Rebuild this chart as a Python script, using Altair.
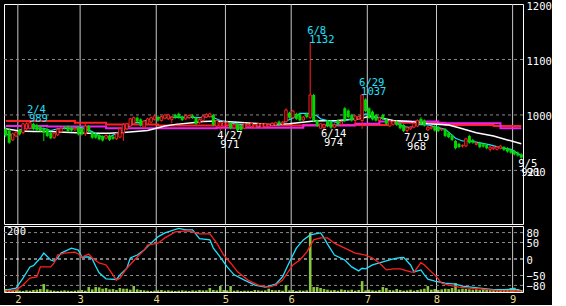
import altair as alt
import pandas as pd

FONT = "DejaVu Sans Mono"

# ---------------- data ----------------
opens = [975,972,955,962,973,968,975,976,984,982,
         978,975,974,968,959,964,970,978,979,977,
         973,978,976,966,980,968,966,964,962,958,
         963,961,957,960,968,975,980,984,995,992,
         978,984,987,992,996,990,994,993,992,1000,
         1002,997,993,995,999,995,986,990,996,997,
         1000,980,980,980,982,985,977,984,980,976,
         980,979,978,980,978,979,980,981,982,988,
         984,988,1004,995,1002,1001,991,1002,995,1036,
         990,976,977,989,988,978,990,983,1012,1008,
         1000,990,993,990,1028,1012,1006,1000,990,1000,
         992,980,983,988,985,982,972,975,978,980,
         993,990,973,976,980,978,973,974,968,963,
         953,948,944,944,962,955,947,950,947,946,
         938,939,938,940,942,940,937,935,932,929]
highs = [979,975,968,971,975,986,987,989,986,984,
         980,977,976,970,969,976,978,980,981,979,
         978,980,978,984,982,970,968,966,963,965,
         965,962,968,977,985,986,995,997,997,994,
         991,995,997,1000,999,999,1002,1002,998,1002,
         1004,999,1001,1001,1001,997,994,1000,1003,1004,
         1002,992,988,989,989,987,984,986,982,986,
         985,987,984,986,986,986,985,987,988,990,
         989,1012,1006,1009,1004,1003,998,1004,1132,1038,
         992,985,984,991,990,985,992,990,1014,1010,
         1002,1000,999,1037,1030,1014,1008,1002,997,1002,
         994,991,990,990,987,984,979,980,987,992,
         996,992,980,980,982,980,976,976,970,965,
         955,950,947,959,964,957,951,952,949,948,
         944,944,944,946,944,942,939,937,934,931]
lows = [960,948,953,960,963,966,972,974,972,971,
        970,953,960,956,957,962,968,974,969,970,
        971,963,963,962,968,957,957,954,952,956,
        953,955,955,958,953,973,978,982,986,979,
        976,982,985,990,988,988,992,991,985,993,
        993,989,991,993,993,982,984,988,994,995,
        980,978,971,978,979,974,975,970,972,974,
        978,977,976,978,976,977,978,979,980,981,
        982,986,993,993,991,988,989,994,993,988,
        978,975,974,978,975,976,980,981,987,994,
        988,980,991,975,1005,993,990,988,988,991,
        982,978,981,980,974,969,968,973,976,978,
        982,979,971,974,970,969,971,960,958,953,
        938,940,941,942,948,948,945,940,941,938,
        934,937,936,938,935,932,930,927,925,921]
closes = [963,950,966,969,965,984,984,986,975,973,
          971,968,962,958,967,974,976,976,971,972,
          976,965,965,980,970,959,959,956,954,963,
          955,957,966,975,983,984,993,995,988,981,
          989,993,995,998,990,997,1000,1000,996,995,
          995,991,999,999,995,984,992,998,1001,1002,
          982,990,986,987,986,976,982,972,973,984,
          983,985,982,984,984,984,983,985,986,983,
          987,1009,995,1007,993,990,996,996,1036,990,
          980,984,983,980,977,983,982,988,990,996,
          990,998,997,1036,1007,995,992,990,995,993,
          984,989,988,982,976,971,977,978,985,990,
          984,981,978,978,972,971,974,962,960,955,
          940,942,945,957,950,950,949,942,943,940,
          942,942,942,944,937,934,932,929,927,923]
volumes = [9,6,5,6,4,3,5,4,6,7,
           9,24,8,5,4,3,4,5,4,3,
           4,5,6,4,15,8,15,14,10,12,
           8,9,6,12,10,10,7,18,8,6,
           5,4,3,4,5,6,4,5,4,3,
           4,5,4,3,5,4,6,5,5,12,
           6,5,18,6,5,18,4,5,3,4,
           4,3,6,5,4,5,10,6,5,6,
           4,21,5,6,3,5,4,5,180,15,
           15,12,9,7,5,6,4,8,6,5,
           7,4,6,33,5,7,5,4,6,15,
           12,6,5,9,6,4,5,7,4,6,
           8,10,18,7,9,6,8,10,9,12,
           27,8,10,9,8,7,8,6,9,7,
           7,9,8,6,7,6,12,13,9,6]

month_labels = ["2", "3", "4", "5", "6", "7", "8", "9"]
month_start_idx = [4, 22, 44, 64, 83, 105, 125, 147]

cyan_ma_idx = [0,1,3,4,6,8,11,13,15,19,22,25,27,30,32,35,37,39,41,44,
               50,56,59,62,65,69,73,79,81,83,85,88,90,91,93,96,98,101,104,106,
               108,111,113,115,117,119,122,125,127,128,130,132,134,136,140,143,146,148,149]
cyan_ma_val = [965,964,964,973,977,976,976,972,975,976,977,970,962,960,967,977,986,986,991,995,
               996,995,998,990,985,982,980,982,989,994,1003,1003,998,993,990,986,990,994,1002,998,
               995,989,985,979,977,983,982,977,974,969,958,953,953,951,946,941,938,931,926]
white_ma_idx = [0,4,8,13,17,24,30,35,41,46,49,54,57,61,67,76,82,89,96,102,
                105,108,112,117,122,128,131,136,141,145,149]
white_ma_val = [975,971,970,970,969,967,967,969,972,980,983,986,988,989,987,983,984,989,990,993,
                997,995,990,988,984,982,977,968,962,955,948]
red_ma_idx = [0, 20, 29, 44, 86, 111, 127, 141, 149]
red_ma_val = [989, 986, 983, 981, 982, 986, 982, 980, 980]
mag_ma_idx = [0, 12, 29, 61, 86, 101, 108, 125, 143, 149]
mag_ma_val = [980, 979, 976, 977, 981, 984, 988, 985, 976, 976]

osc_cyan_idx = [0,3,5,7,8,10,11,13,14,15,16,19,21,22,24,25,26,27,29,32,33,35,36,38,40,
                42,44,46,50,52,54,56,59,60,62,64,66,69,72,75,78,80,82,84,86,88,91,92,93,95,
                98,100,102,103,104,106,109,112,114,115,117,118,120,121,122,124,127,130,132,137,
                141,144,147,149]
osc_cyan_val = [-94,-88,-58,-24,-20,3,18,-3,-7,3,18,33,27,6,6,0,-22,-42,-60,-62,-48,-28,3,12,27,
                48,67,79,93,88,88,62,58,33,6,-24,-48,-64,-79,-85,-76,-54,-9,33,58,73,79,64,45,12,
                -3,-24,-36,-28,-30,-18,-9,0,4,5,-18,-39,-33,-48,-61,-67,-73,-76,-82,-88,
                -93,-93,-91,-96]
osc_red_idx = [0,3,5,7,9,10,13,14,15,17,20,21,22,24,25,27,29,30,32,33,35,38,40,41,44,
               46,49,52,54,56,59,61,63,65,67,70,73,76,78,80,83,85,87,89,91,93,95,98,101,104,
               106,108,110,112,114,117,118,120,121,123,124,126,128,131,134,138,142,147,149]
osc_red_val = [-97,-94,-79,-58,-54,-24,-24,-12,12,18,21,15,6,15,3,-12,-18,-33,-64,-58,-28,6,27,42,48,
               64,82,85,82,76,76,48,12,-12,-39,-64,-79,-85,-79,-64,-18,-3,21,58,64,64,48,33,18,12,
               3,-12,-33,-30,-30,-39,-40,-11,-18,-39,-48,-73,-79,-85,-88,-91,-96,-97,-98]

high_ann_idx = [7, 88, 103]
high_ann_date = ["2/4", "6/8", "6/29"]
low_ann_idx = [62, 92, 116, 149]
low_ann_date = ["4/27", "6/14", "7/19", "9/5"]

# ---------------- tables ----------------
N = len(closes)
df = pd.DataFrame({"i": list(range(N)), "o": opens, "h": highs, "l": lows, "c": closes, "v": volumes})
df["up"] = df["c"] >= df["o"]
df["bl"] = df[["o", "c"]].min(axis=1)
df["bh"] = df[["o", "c"]].max(axis=1)
up_df = df[df["up"]]
dn_df = df[~df["up"]]

hi_df = pd.DataFrame({"i": high_ann_idx, "d": high_ann_date,
                      "p": [highs[k] for k in high_ann_idx]})
hi_df["t"] = hi_df["p"].astype(str)
lo_df = pd.DataFrame({"i": low_ann_idx, "d": low_ann_date,
                      "p": [lows[k] for k in low_ann_idx]})
lo_df["t"] = lo_df["p"].astype(str)

grid_x = pd.DataFrame({"i": [m - 0.5 for m in month_start_idx]})

UP = "#ff2020"
DN = "#00d800"
CY = "#20e0ff"
MG = "#f020f0"
GRIDV = "#c8c8c8"
GRIDH = "#8a8a8a"

TOP_H = 220
PX_PER_UNIT = 223 / 402.0
xs = alt.Scale(domain=[-0.5, N - 0.5], nice=False, zero=False, padding=0)
ys_top = alt.Scale(domain=[1200 - TOP_H / PX_PER_UNIT, 1200], nice=False, zero=False, padding=0)
ys_bot = alt.Scale(domain=[-100, 100], nice=False, zero=False, padding=0)

top_y_axis = alt.Axis(orient="right", values=[900, 1000, 1100, 1200], format="d", grid=False,
                      ticks=False, domain=False, labelColor="white", labelFont=FONT,
                      labelFontSize=10.5, labelPadding=3, labelFlush=False, labelOverlap=False,
                      labelBaseline="middle", labelOffset=2, title=None)
bot_y_axis = alt.Axis(orient="right", values=[-80, -50, 0, 50, 80], format="d", grid=False,
                      ticks=False, domain=False, labelColor="white", labelFont=FONT,
                      labelFontSize=10.5, labelPadding=3, labelFlush=False, labelOverlap=False,
                      labelBaseline="middle", labelOffset=1, title=None)

expr = "''"
for m, lab in zip(reversed(month_start_idx), reversed(month_labels)):
    expr = f"(datum.value < {m} && datum.value > {m - 1}) ? '{lab}' : ({expr})"
bot_x_axis = alt.Axis(values=[m - 0.5 for m in month_start_idx], labelExpr=expr, grid=False,
                      ticks=False, domain=False, labelColor="#e6dc8c", labelFont=FONT,
                      labelFontSize=10.5, labelPadding=2, labelFlush=False, labelOverlap=False,
                      title=None)


def XT(field="i"):
    return alt.X(f"{field}:Q", scale=xs, axis=None)


def YT(field):
    return alt.Y(f"{field}:Q", scale=ys_top, axis=top_y_axis)


def XB(field="i"):
    return alt.X(f"{field}:Q", scale=xs, axis=bot_x_axis)


def YB(field):
    return alt.Y(f"{field}:Q", scale=ys_bot, axis=bot_y_axis)


# ---------------- top panel ----------------
vgrid_top = alt.Chart(grid_x).mark_rule(color=GRIDV, strokeWidth=1).encode(x=XT())
hgrid_top = alt.Chart(pd.DataFrame({"p": [900, 1000, 1100]})).mark_rule(
    color=GRIDH, strokeDash=[3, 3], strokeWidth=1).encode(y=YT("p"))

def ma_line(idx, val, color, width, interp="linear"):
    d = pd.DataFrame({"i": idx, "p": val})
    return alt.Chart(d).mark_line(color=color, strokeWidth=width, interpolate=interp).encode(
        x=XT(), y=YT("p"))

red_line = ma_line(red_ma_idx, red_ma_val, UP, 2, "step-after")
mag_line = ma_line(mag_ma_idx, mag_ma_val, MG, 2, "step-after")
white_line = ma_line(white_ma_idx, white_ma_val, "white", 1.5)
cyan_line = ma_line(cyan_ma_idx, cyan_ma_val, CY, 1.2)

wick_up = alt.Chart(up_df).mark_rule(color=UP, strokeWidth=1).encode(
    x=XT(), y=YT("l"), y2="h:Q")
wick_dn = alt.Chart(dn_df).mark_rule(color=DN, strokeWidth=1).encode(
    x=XT(), y=YT("l"), y2="h:Q")
body_up = alt.Chart(up_df).mark_bar(size=2.4, fill="black", stroke=UP, strokeWidth=1).encode(
    x=XT(), y=YT("bl"), y2="bh:Q")
body_dn = alt.Chart(dn_df).mark_bar(size=3, color=DN).encode(
    x=XT(), y=YT("bl"), y2="bh:Q")

txt = dict(font=FONT, fontSize=10.5, align="left", baseline="middle")
hi_date = alt.Chart(hi_df).mark_text(color=CY, dx=-3, dy=-11, **txt).encode(
    x=XT(), y=YT("p"), text="d:N")
hi_val = alt.Chart(hi_df).mark_text(color=CY, dx=-1, dy=-2, **txt).encode(
    x=XT(), y=YT("p"), text="t:N")
lo_date = alt.Chart(lo_df).mark_text(color="white", dx=-3, dy=5, **txt).encode(
    x=XT(), y=YT("p"), text="d:N")
lo_val = alt.Chart(lo_df).mark_text(color="white", dx=0, dy=14, **txt).encode(
    x=XT(), y=YT("p"), text="t:N")

top = alt.layer(vgrid_top, hgrid_top, red_line, mag_line, white_line, cyan_line,
                wick_up, wick_dn, body_up, body_dn, hi_date, hi_val, lo_date, lo_val
                ).properties(width=519, height=TOP_H)

# ---------------- bottom panel ----------------
vgrid_bot = alt.Chart(grid_x).mark_rule(color=GRIDV, strokeWidth=1).encode(x=XB())
hgrid_bot = alt.Chart(pd.DataFrame({"p": [80, 50, -50, -80]})).mark_rule(
    color=GRIDH, strokeDash=[3, 3], strokeWidth=1).encode(y=YB("p"))
zero_bot = alt.Chart(pd.DataFrame({"p": [0]})).mark_rule(
    color="white", strokeDash=[3, 3], strokeWidth=1).encode(y=YB("p"))

vol = alt.Chart(df).transform_calculate(
    vb="-100", vt="datum.v - 100").mark_bar(size=2.6, color="#8cc63f").encode(
    x=XB(), y=YB("vt"), y2="vb:Q")

osc_c = alt.Chart(pd.DataFrame({"i": osc_cyan_idx, "p": osc_cyan_val})).mark_line(
    color=CY, strokeWidth=1.3).encode(x=XB(), y=YB("p"))
osc_r = alt.Chart(pd.DataFrame({"i": osc_red_idx, "p": osc_red_val})).mark_line(
    color=UP, strokeWidth=1.3).encode(x=XB(), y=YB("p"))

vol_max = alt.Chart(pd.DataFrame({"t": ["200"]})).mark_text(
    color="white", font=FONT, fontSize=10.5, align="left", baseline="top", dx=3, dy=1).encode(
    x=alt.X("xx:Q", scale=xs, axis=bot_x_axis), y=alt.Y("yy:Q", scale=ys_bot, axis=bot_y_axis),
    text="t:N").transform_calculate(xx="-0.5", yy="100")

bottom = alt.layer(vgrid_bot, hgrid_bot, zero_bot, vol, osc_c, osc_r, vol_max
                   ).properties(width=519, height=66)

chart = alt.vconcat(top, bottom, spacing=0).properties(
    padding={"left": 1, "top": 0, "right": 0, "bottom": 0}
).configure(background="black").configure_view(stroke="white", strokeWidth=1)

chart.save("out.html", embed_options={"renderer": "svg", "actions": False})
